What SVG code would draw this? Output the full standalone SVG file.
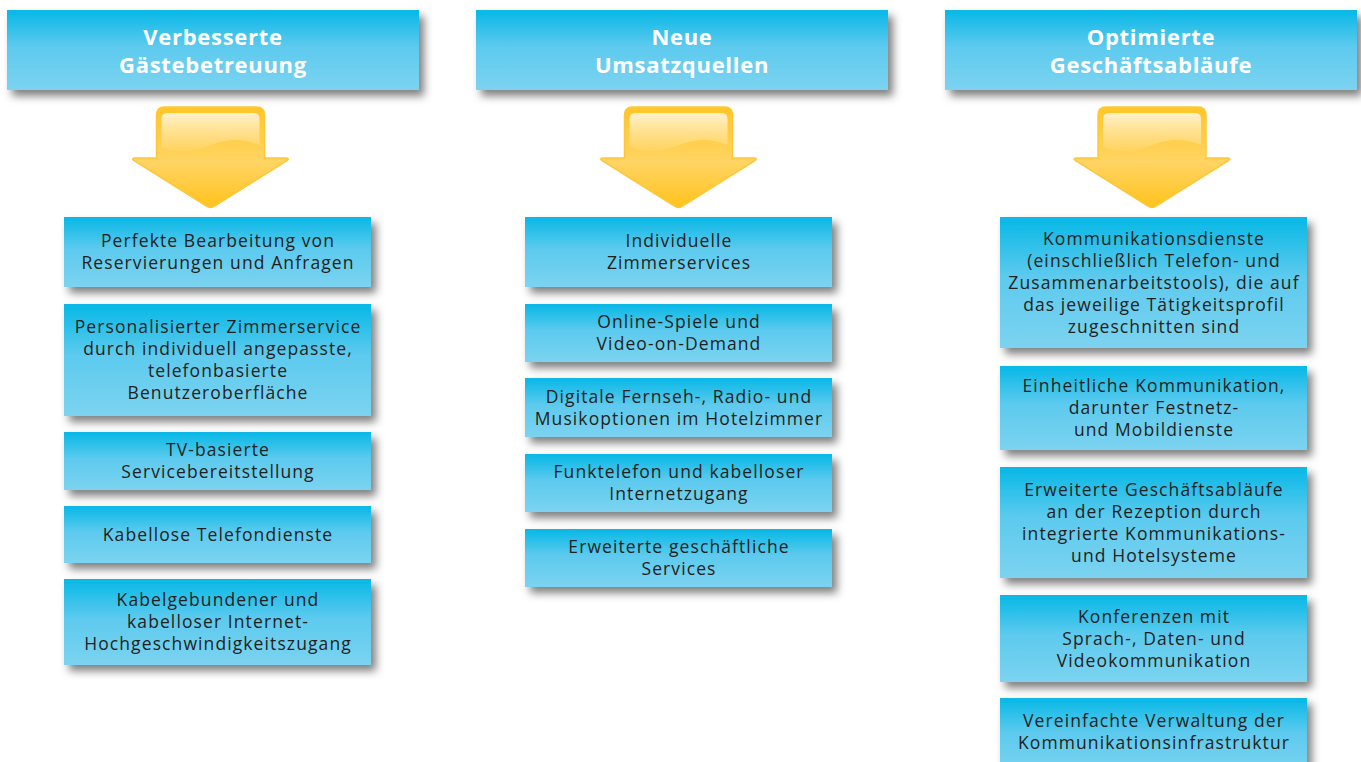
<svg xmlns="http://www.w3.org/2000/svg" width="1361" height="762" viewBox="0 0 1361 762">
<defs>
<linearGradient id="blue" x1="0" y1="0" x2="0" y2="1">
<stop offset="0" stop-color="#06b8e6"/>
<stop offset="0.45" stop-color="#5ccaee"/>
<stop offset="1" stop-color="#7cd3f0"/>
</linearGradient>
<linearGradient id="yel" x1="0" y1="0" x2="0" y2="1">
<stop offset="0" stop-color="#ffc629"/>
<stop offset="0.55" stop-color="#ffd463"/>
<stop offset="1" stop-color="#ffc31c"/>
</linearGradient>
<linearGradient id="gloss" x1="0" y1="0" x2="0" y2="1">
<stop offset="0" stop-color="#ffffff" stop-opacity="0.75"/>
<stop offset="1" stop-color="#ffffff" stop-opacity="0.05"/>
</linearGradient>
<filter id="sh" x="-10%" y="-20%" width="125%" height="150%">
<feDropShadow dx="5" dy="6" stdDeviation="4" flood-color="#000" flood-opacity="0.5"/>
</filter>
<g id="arrow">
<path d="M -54,8 Q -54,0 -46,0 L 46,0 Q 54,0 54,8 L 54,51 L 75,51 Q 80,51 76,54 L 4,99 Q 0,102 -4,99 L -76,54 Q -80,51 -75,51 L -54,51 Z" fill="url(#yel)" stroke="#ffc63a" stroke-width="1.5"/>
<path d="M -49,12 Q -49,6 -43,6 L 43,6 Q 49,6 49,12 L 49,38 C 30,30 15,32 -5,40 C -22,46 -36,45 -49,40 Z" fill="url(#gloss)"/>
</g>
</defs>
<style>
.box{fill:url(#blue);filter:url(#sh)}
.hd{font-family:"Open Sans","DejaVu Sans",sans-serif;font-weight:bold;font-size:22px;fill:#fff;text-anchor:middle;letter-spacing:0.7px}
.tx{font-family:"Open Sans","DejaVu Sans",sans-serif;font-size:17.5px;fill:#231f20;text-anchor:middle;letter-spacing:1.1px}
</style>
<rect width="1361" height="762" fill="#fff"/>

<g id="header1"><rect class="box" x="7" y="10" width="412" height="80"/><text class="hd" x="213" y="45">Verbesserte</text><text class="hd" x="213" y="73">Gästebetreuung</text></g>
<g id="header2"><rect class="box" x="476" y="10" width="412" height="80"/><text class="hd" x="682" y="45">Neue</text><text class="hd" x="682" y="73">Umsatzquellen</text></g>
<g id="header3"><rect class="box" x="945" y="10" width="412" height="80"/><text class="hd" x="1151" y="45">Optimierte</text><text class="hd" x="1151" y="73">Geschäftsabläufe</text></g>

<g id="connectors">
<use href="#arrow" transform="translate(210.5,107)"/>
<use href="#arrow" transform="translate(678.5,107)"/>
<use href="#arrow" transform="translate(1152,107)"/>
</g>

<g id="c1b1"><rect class="box" x="64" y="217" width="307" height="70"/><text class="tx" x="218" y="247">Perfekte Bearbeitung von</text><text class="tx" x="218" y="269">Reservierungen und Anfragen</text></g>
<g id="c1b2"><rect class="box" x="64" y="304" width="307" height="112"/><text class="tx" x="218" y="333">Personalisierter Zimmerservice</text><text class="tx" x="218" y="355">durch individuell angepasste,</text><text class="tx" x="218" y="377">telefonbasierte</text><text class="tx" x="218" y="399">Benutzeroberfläche</text></g>
<g id="c1b3"><rect class="box" x="64" y="432" width="307" height="58"/><text class="tx" x="218" y="456">TV-basierte</text><text class="tx" x="218" y="478">Servicebereitstellung</text></g>
<g id="c1b4"><rect class="box" x="64" y="506" width="307" height="57"/><text class="tx" x="218" y="540.5">Kabellose Telefondienste</text></g>
<g id="c1b5"><rect class="box" x="64" y="579" width="307" height="86"/><text class="tx" x="218" y="606">Kabelgebundener und</text><text class="tx" x="218" y="628">kabelloser Internet-</text><text class="tx" x="218" y="650">Hochgeschwindigkeitszugang</text></g>

<g id="c2b1"><rect class="box" x="525" y="217" width="307" height="70"/><text class="tx" x="679" y="247">Individuelle</text><text class="tx" x="679" y="269">Zimmerservices</text></g>
<g id="c2b2"><rect class="box" x="525" y="304" width="307" height="58"/><text class="tx" x="679" y="328">Online-Spiele und</text><text class="tx" x="679" y="350">Video-on-Demand</text></g>
<g id="c2b3"><rect class="box" x="525" y="378" width="307" height="59"/><text class="tx" x="679" y="402.5">Digitale Fernseh-, Radio- und</text><text class="tx" x="679" y="424.5">Musikoptionen im Hotelzimmer</text></g>
<g id="c2b4"><rect class="box" x="525" y="454" width="307" height="58"/><text class="tx" x="679" y="478">Funktelefon und kabelloser</text><text class="tx" x="679" y="500">Internetzugang</text></g>
<g id="c2b5"><rect class="box" x="525" y="529" width="307" height="58"/><text class="tx" x="679" y="553">Erweiterte geschäftliche</text><text class="tx" x="679" y="575">Services</text></g>

<g id="c3b1"><rect class="box" x="1000" y="217" width="307" height="131"/><text class="tx" x="1154" y="244.5">Kommunikationsdienste</text><text class="tx" x="1154" y="266.5">(einschließlich Telefon- und</text><text class="tx" x="1154" y="288.5">Zusammenarbeitstools), die auf</text><text class="tx" x="1154" y="310.5">das jeweilige Tätigkeitsprofil</text><text class="tx" x="1154" y="332.5">zugeschnitten sind</text></g>
<g id="c3b2"><rect class="box" x="1000" y="366" width="307" height="84"/><text class="tx" x="1154" y="392">Einheitliche Kommunikation,</text><text class="tx" x="1154" y="414">darunter Festnetz-</text><text class="tx" x="1154" y="436">und Mobildienste</text></g>
<g id="c3b3"><rect class="box" x="1000" y="467" width="307" height="111"/><text class="tx" x="1154" y="495.5">Erweiterte Geschäftsabläufe</text><text class="tx" x="1154" y="517.5">an der Rezeption durch</text><text class="tx" x="1154" y="539.5">integrierte Kommunikations-</text><text class="tx" x="1154" y="561.5">und Hotelsysteme</text></g>
<g id="c3b4"><rect class="box" x="1000" y="595" width="307" height="87"/><text class="tx" x="1154" y="622.5">Konferenzen mit</text><text class="tx" x="1154" y="644.5">Sprach-, Daten- und</text><text class="tx" x="1154" y="666.5">Videokommunikation</text></g>
<g id="c3b5"><rect class="box" x="1000" y="698" width="307" height="76"/><text class="tx" x="1154" y="727">Vereinfachte Verwaltung der</text><text class="tx" x="1154" y="749">Kommunikationsinfrastruktur</text></g>
</svg>
